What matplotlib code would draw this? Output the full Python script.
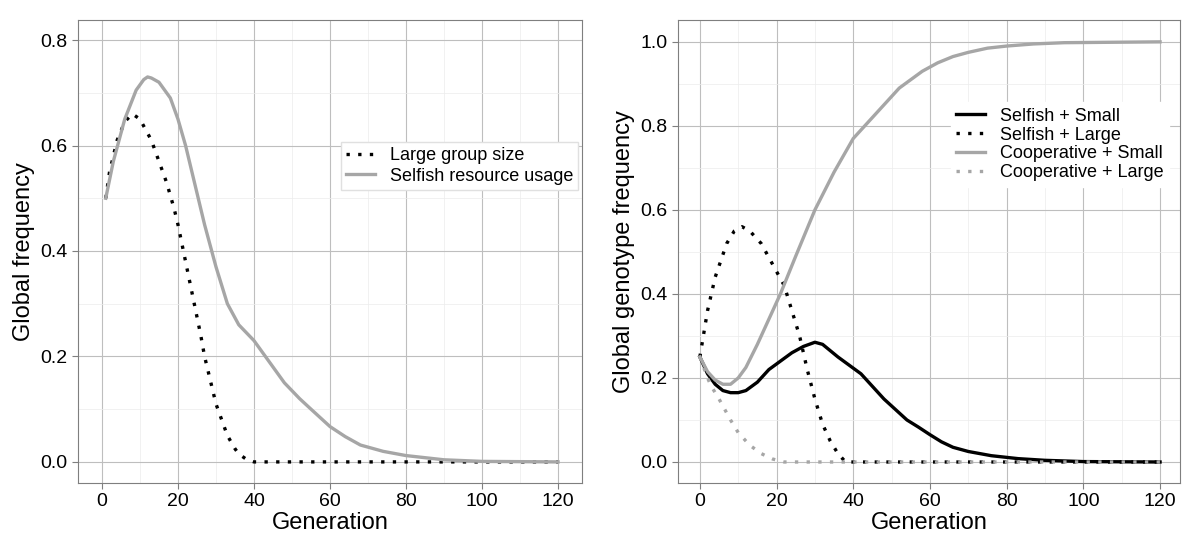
import numpy as np
import matplotlib.pyplot as plt
from matplotlib.ticker import MultipleLocator

plt.rcParams['font.family'] = ['Liberation Sans', 'DejaVu Sans']

# left panel
gen_large = [1, 2, 4, 6, 8, 10, 13, 15, 17, 19, 20, 22, 24, 26, 27, 29, 30, 32, 33, 35, 36, 38, 40, 120]
large = [0.50, 0.55, 0.61, 0.645, 0.66, 0.65, 0.61, 0.57, 0.53, 0.48, 0.45, 0.38, 0.31, 0.24, 0.20,
         0.14, 0.11, 0.07, 0.05, 0.025, 0.015, 0.005, 0.0, 0.0]
gen_selfish = [1, 3, 6, 9, 11, 12, 13, 15, 18, 20, 22, 25, 27, 30, 33, 36, 40, 44, 48, 52, 55, 60,
               64, 68, 74, 80, 90, 100, 120]
selfish = [0.50, 0.57, 0.65, 0.705, 0.725, 0.73, 0.728, 0.72, 0.69, 0.65, 0.60, 0.51, 0.45, 0.37,
           0.30, 0.26, 0.23, 0.19, 0.15, 0.12, 0.10, 0.067, 0.048, 0.032, 0.02, 0.012, 0.004, 0.001, 0.0]

# right panel
gen_ss = [0, 2, 4, 6, 8, 10, 12, 15, 18, 21, 24, 27, 30, 32, 34, 36, 39, 42, 45, 48, 51, 54,
          57, 60, 63, 66, 70, 76, 83, 90, 100, 120]
sel_small = [0.25, 0.21, 0.185, 0.17, 0.165, 0.165, 0.17, 0.19, 0.22, 0.24, 0.26, 0.275, 0.285,
             0.28, 0.265, 0.25, 0.23, 0.21, 0.18, 0.15, 0.125, 0.10, 0.083, 0.065, 0.048, 0.035,
             0.025, 0.015, 0.008, 0.004, 0.001, 0.0]
gen_sl = [0, 2, 4, 7, 9, 11, 13, 16, 19, 22, 24, 26, 28, 30, 32, 34, 36, 38, 120]
sel_large = [0.25, 0.36, 0.44, 0.52, 0.55, 0.56, 0.55, 0.52, 0.47, 0.42, 0.36, 0.30, 0.22, 0.15,
             0.09, 0.05, 0.02, 0.0, 0.0]
gen_cs = [0, 2, 4, 6, 8, 10, 12, 15, 18, 21, 25, 30, 35, 40, 44, 48, 52, 55, 58, 62, 66, 70, 75,
          80, 87, 95, 120]
coop_small = [0.25, 0.215, 0.195, 0.185, 0.185, 0.20, 0.225, 0.28, 0.34, 0.40, 0.49, 0.60, 0.69,
              0.77, 0.81, 0.85, 0.89, 0.91, 0.93, 0.95, 0.965, 0.975, 0.985, 0.99, 0.995, 0.998, 1.0]
gen_cl = [0, 2, 3, 5, 8, 10, 13, 16, 19, 22, 120]
coop_large = [0.25, 0.20, 0.18, 0.15, 0.10, 0.07, 0.04, 0.02, 0.007, 0.0, 0.0]

fig = plt.figure(figsize=(12.03, 5.46), dpi=100)
ax1 = fig.add_axes([78/1203, 63/546, 504/1203, 463/546])
ax2 = fig.add_axes([678/1203, 63/546, 502/1203, 463/546])

def style(ax):
    ax.xaxis.set_major_locator(MultipleLocator(20))
    ax.xaxis.set_minor_locator(MultipleLocator(10))
    ax.grid(which='major', color='#bebebe', linewidth=0.8)
    ax.grid(which='minor', color='#ececec', linewidth=0.5)
    ax.set_axisbelow(True)
    for s in ax.spines.values():
        s.set_color('#7f7f7f')
    ax.tick_params(which='major', labelsize=14, color='#7f7f7f', length=4)
    ax.tick_params(which='minor', length=0)
    ax.set_xlabel('Generation', fontsize=17, labelpad=1)

ax1.plot(gen_large, large, color='black', linestyle=(0, (1, 2.5)), linewidth=2.4,
         label='Large group size')
ax1.plot(gen_selfish, selfish, color='#a6a6a6', linewidth=2.4, label='Selfish resource usage')
ax1.set_xlim(-6.3, 126.3)
ax1.set_ylim(-0.04, 0.838)
ax1.yaxis.set_major_locator(MultipleLocator(0.2))
ax1.yaxis.set_minor_locator(MultipleLocator(0.1))
style(ax1)
ax1.set_ylabel('Global frequency', fontsize=17)
leg1 = ax1.legend(loc='upper right', bbox_to_anchor=(1.0, 0.745), fontsize=13, frameon=True,
                  handlelength=1.6, borderaxespad=0.2, labelspacing=0.2, fancybox=False,
                  borderpad=0.3)
leg1.get_frame().set_edgecolor('#e0e0e0')
leg1.get_frame().set_alpha(1)

ax2.plot(gen_ss, sel_small, color='black', linewidth=2.4, label='Selfish + Small')
ax2.plot(gen_sl, sel_large, color='black', linestyle=(0, (1, 2.5)), linewidth=2.4,
         label='Selfish + Large')
ax2.plot(gen_cs, coop_small, color='#a6a6a6', linewidth=2.4, label='Cooperative + Small')
ax2.plot(gen_cl, coop_large, color='#a6a6a6', linestyle=(0, (1, 2.5)), linewidth=2.4,
         label='Cooperative + Large')
ax2.set_xlim(-5.7, 125.2)
ax2.set_ylim(-0.05, 1.052)
ax2.yaxis.set_major_locator(MultipleLocator(0.2))
ax2.yaxis.set_minor_locator(MultipleLocator(0.1))
style(ax2)
ax2.set_ylabel('Global genotype frequency', fontsize=17)
leg = ax2.legend(loc='upper right', bbox_to_anchor=(0.985, 0.83), fontsize=13, frameon=True,
                 handlelength=1.6, borderaxespad=0.2, labelspacing=0.1, fancybox=False,
                 borderpad=0.3)
leg.get_frame().set_edgecolor('white')
leg.get_frame().set_alpha(1)

fig.savefig('out.png', dpi=100)
